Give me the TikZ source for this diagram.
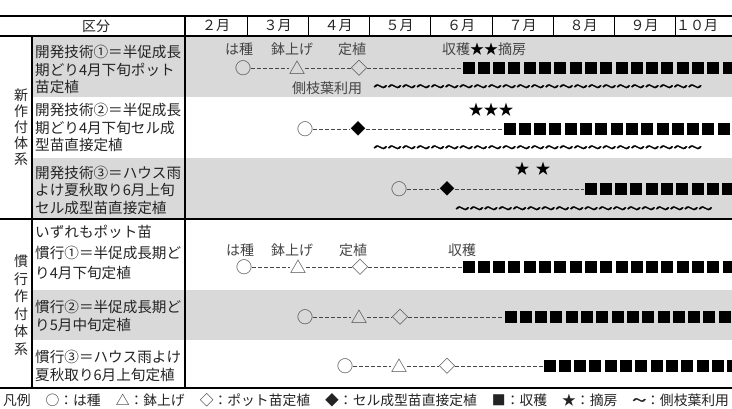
\documentclass[tikz,border=0pt]{standalone}
\usepackage{fontspec}
\setmainfont{Noto Sans CJK JP}
\newfontfamily\wavefont[FakeBold=1.6]{Noto Sans CJK JP}
\definecolor{shadec}{RGB}{217,217,217}
\definecolor{ink}{RGB}{35,35,35}
\definecolor{symc}{RGB}{70,70,70}
\newcommand\harvestrow[2]{%
  \foreach \i in {0,...,20}{\fill[black] ({#1+\i*15.3+0.5},{#2-6}) rectangle ++(12,12);}}
\begin{document}
\begin{tikzpicture}[x=1pt,y=-1pt,
  frame/.style={line width=1.3pt,black},
  thinl/.style={line width=0.8pt,black},
  hdr/.style={font=\fontsize{14}{16}\selectfont,text=ink,inner sep=0},
  txt/.style={font=\fontsize{14.6}{17}\selectfont,text=ink,inner sep=0,anchor=west},
  vert/.style={font=\fontsize{14}{16}\selectfont,text=ink,inner sep=0},
  lbl/.style={font=\fontsize{14}{16}\selectfont,text=ink!85,inner sep=0},
  sym/.style={font=\fontsize{16.5}{16}\selectfont,text=symc,inner sep=0},
  fsym/.style={font=\fontsize{15}{15}\selectfont,text=black,inner sep=0},
  conn/.style={symc,line width=0.65pt,dash pattern=on 4pt off 2pt},
  wave/.style={font=\wavefont\fontsize{14.3}{14}\selectfont,text=black,inner sep=0,anchor=west}]
\useasboundingbox (0,0) rectangle (732,408);
% shading
\fill[shadec] (32,36) rectangle (732,97);
\fill[shadec] (32,158) rectangle (732,219);
\fill[shadec] (32,290) rectangle (732,340);
% grid
\draw[frame] (0,16) -- (732,16);
\draw[frame] (0,36) -- (732,36);
\draw[frame] (0,219) -- (732,219);
\draw[frame] (0,388) -- (732,388);
\draw[frame] (185,16) -- (185,388);
\draw[frame] (32,36) -- (32,388);
\foreach \x in {247,308,369,430,492,553,614,675} \draw[thinl] (\x,16) -- (\x,36);
% header
\node[hdr] (kubun) at (96,26) {区分};
\node[hdr] (m2) at (216,26) {２月};
\node[hdr] (m3) at (277.5,26) {３月};
\node[hdr] (m4) at (338.5,26) {４月};
\node[hdr] (m5) at (399.5,26) {５月};
\node[hdr] (m6) at (461,26) {６月};
\node[hdr] (m7) at (522.5,26) {７月};
\node[hdr] (m8) at (583.5,26) {８月};
\node[hdr] (m9) at (644.5,26) {９月};
\node[hdr] (m10) at (697,26) {１０月};
% group labels
\node[vert,align=center] (gnew) at (21,127) {新\\作\\付\\体\\系};
\node[vert,align=center,font=\fontsize{14}{17.5}\selectfont] (gold) at (21,305) {慣\\行\\作\\付\\体\\系};
% row texts
\node[txt] (t1a) at (35,52) {開発技術①＝半促成長};
\node[txt] (t1b) at (35,70) {期どり4月下旬ポット};
\node[txt] (t1c) at (35,87) {苗定植};
\node[txt] (t2a) at (35,110) {開発技術②＝半促成長};
\node[txt] (t2b) at (35,128) {期どり4月下旬セル成};
\node[txt] (t2c) at (35,145) {型苗直接定植};
\node[txt] (t3a) at (35,173) {開発技術③＝ハウス雨};
\node[txt] (t3b) at (35,190) {よけ夏秋取り6月上旬};
\node[txt] (t3c) at (35,208) {セル成型苗直接定植};
\node[txt] (t4a) at (35,232) {いずれもポット苗};
\node[txt] (t4b) at (35,253) {慣行①＝半促成長期ど};
\node[txt] (t4c) at (35,273) {り4月下旬定植};
\node[txt] (t5a) at (35,307) {慣行②＝半促成長期ど};
\node[txt] (t5b) at (35,325) {り5月中旬定植};
\node[txt] (t6a) at (35,357) {慣行③＝ハウス雨よけ};
\node[txt] (t6b) at (35,375) {夏秋取り6月上旬定植};
% ---- row 1
\node[lbl] (r1l1) at (239,49) {は種};
\node[lbl] (r1l2) at (292,49) {鉢上げ};
\node[lbl] (r1l3) at (352,49) {定植};
\node[lbl,anchor=west] (r1l4) at (442,49) {収穫\textcolor{black}{★★}摘房};
\node[sym] (r1a) at (243,68) {○};
\node[sym] (r1b) at (297,68) {△};
\node[sym] (r1c) at (359,68) {◇};
\coordinate (r1d) at (462,68);
\draw[conn] (r1a) -- (r1b);
\draw[conn] (r1b) -- (r1c);
\draw[conn] (r1c) -- (r1d);
\node[lbl,anchor=west] (r1t) at (292,88) {側枝葉利用};
\node[wave] (r1w) at (373,88) {〜〜〜〜〜〜〜〜〜〜〜〜〜〜〜〜〜〜〜〜〜〜〜};
% ---- row 2
\node[fsym] (r2s) at (491,110) {★★★};
\node[sym] (r2a) at (305,129) {○};
\node[fsym] (r2b) at (358,129) {◆};
\coordinate (r2d) at (503,129);
\draw[conn] (r2a) -- (r2b);
\draw[conn] (r2b) -- (r2d);
\node[wave] (r2w) at (373,149) {〜〜〜〜〜〜〜〜〜〜〜〜〜〜〜〜〜〜〜〜〜〜〜};
% ---- row 3
\node[fsym] (r3s1) at (522,169) {★};
\node[fsym] (r3s2) at (543,169) {★};
\node[sym] (r3a) at (399,189) {○};
\node[fsym] (r3b) at (447,189) {◆};
\coordinate (r3d) at (584,189);
\draw[conn] (r3a) -- (r3b);
\draw[conn] (r3b) -- (r3d);
\node[wave] (r3w) at (455,210) {〜〜〜〜〜〜〜〜〜〜〜〜〜〜〜〜〜〜};
% ---- row 4
\node[lbl] (r4l1) at (240,250) {は種};
\node[lbl] (r4l2) at (292,250) {鉢上げ};
\node[lbl] (r4l3) at (353,250) {定植};
\node[lbl] (r4l4) at (462,250) {収穫};
\node[sym] (r4a) at (244,267) {○};
\node[sym] (r4b) at (298,267) {△};
\node[sym] (r4c) at (360,267) {◇};
\coordinate (r4d) at (462,267);
\draw[conn] (r4a) -- (r4b);
\draw[conn] (r4b) -- (r4c);
\draw[conn] (r4c) -- (r4d);
% ---- row 5
\node[sym] (r5a) at (305,317) {○};
\node[sym] (r5b) at (359,317) {△};
\node[sym] (r5c) at (400,317) {◇};
\coordinate (r5d) at (504,317);
\draw[conn] (r5a) -- (r5b);
\draw[conn] (r5b) -- (r5c);
\draw[conn] (r5c) -- (r5d);
% ---- row 6
\node[sym] (r6a) at (345,366) {○};
\node[sym] (r6b) at (399,366) {△};
\node[sym] (r6c) at (447,366) {◇};
\coordinate (r6d) at (543,366);
\draw[conn] (r6a) -- (r6b);
\draw[conn] (r6b) -- (r6c);
\draw[conn] (r6c) -- (r6d);
% harvest squares
\begin{scope}
\clip (0,0) rectangle (732,408);
\harvestrow{462}{68}
\harvestrow{503}{129}
\harvestrow{584}{189}
\harvestrow{462}{267}
\harvestrow{504}{317}
\harvestrow{543}{366}
\end{scope}
% legend
\node[font=\fontsize{13.8}{15}\selectfont,text=ink,inner sep=0] (legend) at (366,400)
  {\makebox[726pt]{凡例\hfill○：は種\hfill△：鉢上げ\hfill◇：ポット苗定植\hfill◆：セル成型苗直接定植\hfill■：収穫\hfill★：摘房\hfill{\wavefont〜}：側枝葉利用}};
\end{tikzpicture}
\end{document}
